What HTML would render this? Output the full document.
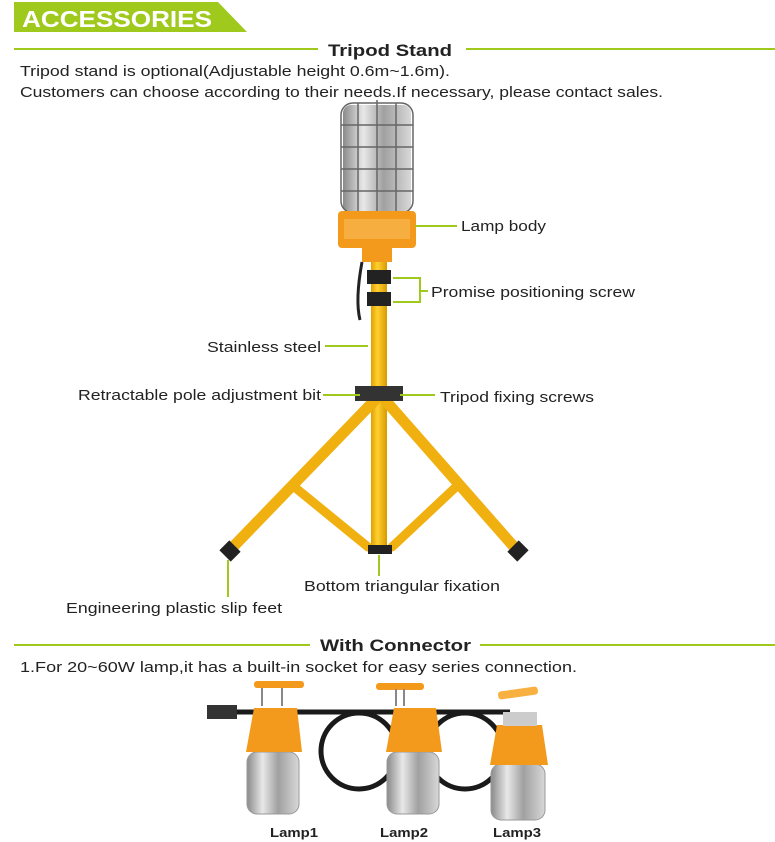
<!DOCTYPE html>
<html><head><meta charset="utf-8"><style>
body{margin:0;background:#fff;}
svg{display:block;font-family:"Liberation Sans",sans-serif;}
</style></head><body>
<svg width="775" height="842" viewBox="0 0 775 842" xmlns="http://www.w3.org/2000/svg">
<defs>
<linearGradient id="steel" x1="0" x2="1"><stop offset="0" stop-color="#8a8a8a"/><stop offset=".3" stop-color="#e8e8e8"/><stop offset=".6" stop-color="#a0a0a0"/><stop offset="1" stop-color="#d8d8d8"/></linearGradient>
<linearGradient id="yel" x1="0" x2="1"><stop offset="0" stop-color="#e0a000"/><stop offset=".4" stop-color="#ffd030"/><stop offset="1" stop-color="#d89a00"/></linearGradient>
</defs>
<polygon points="14,2 218,2 247,32 14,32" fill="#9fc91c"/>
<text x="22" y="27" font-size="23" font-weight="bold" fill="#fff" textLength="190" lengthAdjust="spacingAndGlyphs">ACCESSORIES</text>
<line x1="14" y1="49" x2="318" y2="49" stroke="#9fc91c" stroke-width="2"/>
<line x1="466" y1="49" x2="775" y2="49" stroke="#9fc91c" stroke-width="2"/>
<text x="328" y="56" font-size="17" font-weight="bold" fill="#222" textLength="124" lengthAdjust="spacingAndGlyphs">Tripod Stand</text>
<text x="20" y="76" font-size="15" fill="#222" textLength="430" lengthAdjust="spacingAndGlyphs">Tripod stand is optional(Adjustable height 0.6m~1.6m).</text>
<text x="20" y="97" font-size="15" fill="#222" textLength="643" lengthAdjust="spacingAndGlyphs">Customers can choose according to their needs.If necessary, please contact sales.</text>

<rect x="343" y="105" width="68" height="108" rx="8" fill="url(#steel)"/>
<g stroke="#666" stroke-width="1.5" fill="none">
<rect x="341" y="103" width="72" height="110" rx="12"/>
<line x1="341" y1="125" x2="413" y2="125"/><line x1="341" y1="147" x2="413" y2="147"/><line x1="341" y1="169" x2="413" y2="169"/><line x1="341" y1="191" x2="413" y2="191"/>
<line x1="358" y1="103" x2="358" y2="213"/><line x1="377" y1="100" x2="377" y2="213"/><line x1="396" y1="103" x2="396" y2="213"/>
</g>
<rect x="338" y="211" width="78" height="37" rx="4" fill="#f39a1c"/>
<rect x="344" y="219" width="66" height="20" fill="#f7ae40"/>
<rect x="362" y="248" width="30" height="14" fill="#f39a1c"/>
<path d="M362 262 Q355 300 360 320" stroke="#222" stroke-width="3" fill="none"/>
<rect x="371" y="262" width="16" height="288" fill="url(#yel)"/>
<rect x="367" y="270" width="24" height="14" fill="#222"/>
<rect x="367" y="292" width="24" height="14" fill="#222"/>
<g stroke-linecap="round">
<line x1="375" y1="400" x2="232" y2="548" stroke="#f0b010" stroke-width="11"/>
<line x1="385" y1="400" x2="515" y2="548" stroke="#f0b010" stroke-width="11"/>
<line x1="292" y1="485" x2="368" y2="547" stroke="#f0b010" stroke-width="9"/>
<line x1="458" y1="485" x2="392" y2="547" stroke="#f0b010" stroke-width="9"/>
</g>
<rect x="222" y="544" width="16" height="14" fill="#222" transform="rotate(45 230 551)"/>
<rect x="510" y="544" width="16" height="14" fill="#222" transform="rotate(-45 518 551)"/>
<rect x="368" y="545" width="24" height="9" fill="#222"/>
<rect x="355" y="386" width="48" height="15" fill="#333"/>
<g stroke="#9fc91c" stroke-width="2" fill="none">
<line x1="415" y1="226" x2="457" y2="226"/>
<polyline points="393,278 420,278 420,302 393,302"/><line x1="420" y1="291" x2="428" y2="291"/>
<line x1="325" y1="346" x2="368" y2="346"/>
<line x1="323" y1="395" x2="360" y2="395"/>
<line x1="400" y1="395" x2="435" y2="395"/>
<line x1="379" y1="555" x2="379" y2="576"/>
<line x1="228" y1="560" x2="228" y2="597"/>
</g>
<g font-size="15" fill="#222" lengthAdjust="spacingAndGlyphs">
<text x="461" y="231" textLength="85" lengthAdjust="spacingAndGlyphs">Lamp body</text>
<text x="431" y="297" textLength="204" lengthAdjust="spacingAndGlyphs">Promise positioning screw</text>
<text x="207" y="352" textLength="114" lengthAdjust="spacingAndGlyphs">Stainless steel</text>
<text x="78" y="400" textLength="243" lengthAdjust="spacingAndGlyphs">Retractable pole adjustment bit</text>
<text x="440" y="402" textLength="154" lengthAdjust="spacingAndGlyphs">Tripod fixing screws</text>
<text x="304" y="591" textLength="196" lengthAdjust="spacingAndGlyphs">Bottom triangular fixation</text>
<text x="66" y="613" textLength="216" lengthAdjust="spacingAndGlyphs">Engineering plastic slip feet</text>
</g>

<line x1="14" y1="645" x2="310" y2="645" stroke="#9fc91c" stroke-width="2"/>
<line x1="480" y1="645" x2="775" y2="645" stroke="#9fc91c" stroke-width="2"/>
<text x="320" y="651" font-size="17" font-weight="bold" fill="#222" textLength="151" lengthAdjust="spacingAndGlyphs">With Connector</text>
<text x="20" y="672" font-size="15" fill="#222" textLength="557" lengthAdjust="spacingAndGlyphs">1.For 20~60W lamp,it has a built-in socket for easy series connection.</text>

<g fill="none" stroke="#1a1a1a" stroke-width="5">
<line x1="230" y1="712" x2="510" y2="712"/>
<circle cx="359" cy="751" r="38"/>
<circle cx="465" cy="751" r="38"/>
</g>
<rect x="207" y="705" width="30" height="14" fill="#333"/>
<g>
<rect x="247" y="752" width="52" height="62" rx="10" fill="url(#steel)" stroke="#999"/>
<path d="M254 708 H297 L302 752 H246 Z" fill="#f39a1c"/>
<path d="M262 686 V706 M282 686 V706" stroke="#888" stroke-width="2"/>
<rect x="254" y="681" width="50" height="7" rx="3" fill="#f39a1c"/>
<rect x="387" y="752" width="52" height="62" rx="10" fill="url(#steel)" stroke="#999"/>
<path d="M394 708 H436 L442 752 H386 Z" fill="#f39a1c"/>
<rect x="376" y="683" width="48" height="7" rx="3" fill="#f39a1c"/>
<path d="M396 689 V706 M404 689 V706" stroke="#888" stroke-width="2"/>
<rect x="491" y="764" width="54" height="56" rx="10" fill="url(#steel)" stroke="#999"/>
<path d="M497 725 H542 L548 765 H490 Z" fill="#f39a1c"/>
<rect x="503" y="712" width="34" height="14" fill="#ccc"/>
<rect x="498" y="689" width="40" height="8" rx="3" fill="#f8b040" transform="rotate(-8 518 693)"/>
</g>
<g font-size="13" font-weight="bold" fill="#222">
<text x="270" y="837" textLength="48" lengthAdjust="spacingAndGlyphs">Lamp1</text>
<text x="380" y="837" textLength="48" lengthAdjust="spacingAndGlyphs">Lamp2</text>
<text x="493" y="837" textLength="48" lengthAdjust="spacingAndGlyphs">Lamp3</text>
</g>
</svg>
</body></html>
